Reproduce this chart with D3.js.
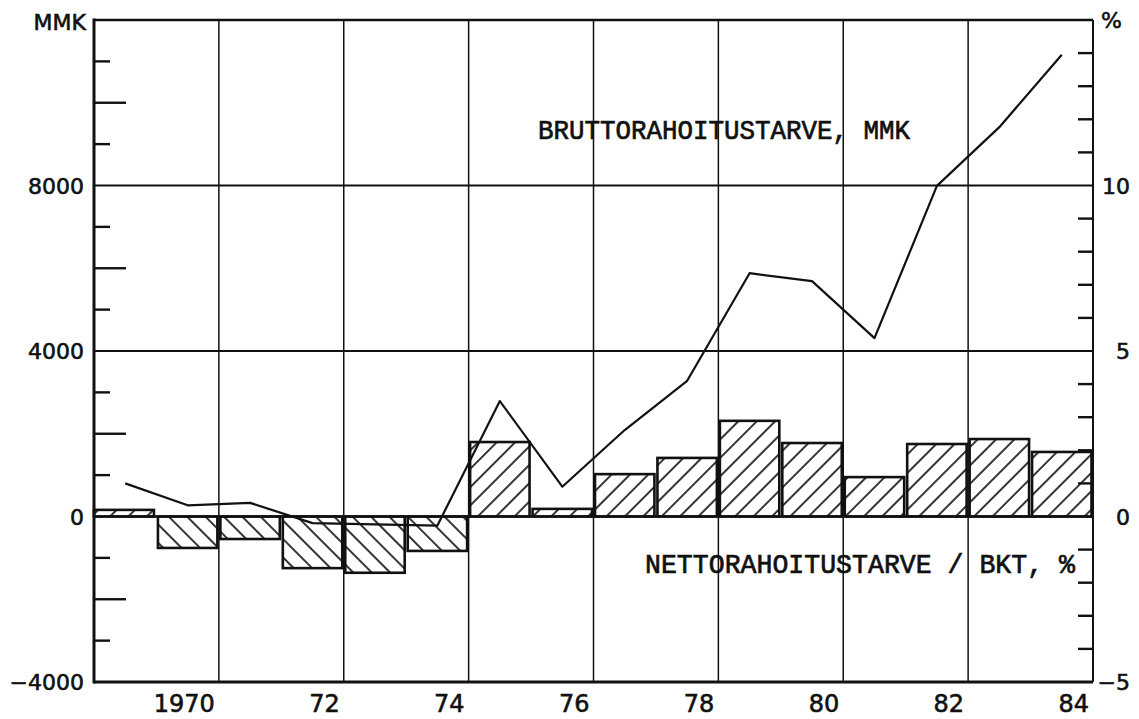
<!DOCTYPE html>
<head>
    <meta charset="UTF-8">
    <title>Bruttorahoitustarve</title>
</head>
<style>
    body {
        margin: 0;
        background: #fff;
    }

    .tick-label {
        font: 22px "DejaVu Sans", sans-serif;
        fill: #111;
        stroke: #111;
        stroke-width: 0.6;
    }

    .year-label {
        font: 24px "DejaVu Sans", sans-serif;
        fill: #111;
        stroke: #111;
        stroke-width: 0.6;
        text-anchor: end;
    }

    .series-label {
        font: 27px "Liberation Mono", monospace;
        fill: #111;
        stroke: #111;
        stroke-width: 0.7;
        white-space: pre;
    }
</style>
<body>

    <script src="https://cdn.jsdelivr.net/npm/d3@7/dist/d3.min.js"></script>
    <script>
        // vuodet 1969-1984
        var years = [1969, 1970, 1971, 1972, 1973, 1974, 1975, 1976,
                     1977, 1978, 1979, 1980, 1981, 1982, 1983, 1984];
        // bruttorahoitustarve, MMK (viiva, vasen akseli)
        var brutto = [800, 270, 330, -160, -190, -220, 2790, 720,
                      2090, 3280, 5880, 5690, 4310, 7990, 9410, 11160];
        // nettorahoitustarve / BKT, % (pylväät, oikea akseli)
        var netto = [0.2, -0.95, -0.68, -1.56, -1.7, -1.04, 2.25, 0.23,
                     1.28, 1.77, 2.89, 2.22, 1.19, 2.19, 2.34, 1.95];

        var leftTicks = [-4000, 0, 4000, 8000];
        var rightTicks = [-5, 0, 5, 10];
        var yearLabels = ["1970", "72", "74", "76", "78", "80", "82", "84"];
        var yearLabelAt = [1971, 1973, 1975, 1977, 1979, 1981, 1983, 1985];

        var width = 1139, height = 719;
        var pLeft = 94, pRight = 1093, pTop = 20, pBottom = 682;

        var x = d3.scaleLinear().domain([1969, 1985]).range([pLeft, pRight]);
        var yL = d3.scaleLinear().domain([-4000, 12000]).range([pBottom, pTop]);
        var yR = d3.scaleLinear().domain([-5, 15]).range([pBottom, pTop]);

        var svg = d3.select("body").append("svg")
            .attr("width", width)
            .attr("height", height);

        // vinoviivoitukset
        var defs = svg.append("defs");
        [["hatchUp", 45], ["hatchDown", -45]].forEach(function(p) {
            defs.append("pattern")
                .attr("id", p[0])
                .attr("patternUnits", "userSpaceOnUse")
                .attr("width", 13)
                .attr("height", 13)
                .attr("patternTransform", "rotate(" + p[1] + ")")
                .append("line")
                .attr("x1", 1).attr("x2", 1)
                .attr("y1", 0).attr("y2", 13)
                .attr("stroke", "#111")
                .attr("stroke-width", 1.7);
        });

        // pystysuorat ruudukkoviivat
        svg.append("g").selectAll("line")
            .data(d3.range(1971, 1985, 2))
            .enter().append("line")
            .attr("x1", function(d) { return x(d); })
            .attr("x2", function(d) { return x(d); })
            .attr("y1", pTop)
            .attr("y2", pBottom)
            .attr("stroke", "#111")
            .attr("stroke-width", 1.5);

        // vaakasuorat ruudukkoviivat
        svg.append("g").selectAll("line")
            .data([4000, 8000])
            .enter().append("line")
            .attr("x1", pLeft)
            .attr("x2", pRight)
            .attr("y1", function(d) { return yL(d); })
            .attr("y2", function(d) { return yL(d); })
            .attr("stroke", "#111")
            .attr("stroke-width", 2);

        // pylväät
        svg.append("g").selectAll("rect")
            .data(years)
            .enter().append("rect")
            .attr("x", function(d) { return x(d) + (d === 1969 ? 0 : 1.5); })
            .attr("width", function(d) { return x(d + 1) - x(d) - (d === 1969 ? 2.5 : 3); })
            .attr("y", function(d, i) { return yR(Math.max(0, netto[i])); })
            .attr("height", function(d, i) { return Math.abs(yR(netto[i]) - yR(0)); })
            .attr("fill", function(d, i) { return netto[i] >= 0 ? "url(#hatchUp)" : "url(#hatchDown)"; })
            .attr("stroke", "#111")
            .attr("stroke-width", 2.6);

        // nollaviiva
        svg.append("line")
            .attr("x1", pLeft).attr("x2", pRight)
            .attr("y1", yL(0)).attr("y2", yL(0))
            .attr("stroke", "#111")
            .attr("stroke-width", 2.6);

        // viiva
        var line = d3.line()
            .x(function(d, i) { return x(years[i] + 0.5); })
            .y(function(d) { return yL(d); });

        svg.append("path")
            .datum(brutto)
            .attr("d", line)
            .attr("fill", "none")
            .attr("stroke", "#111")
            .attr("stroke-width", 2.2)
            .attr("stroke-linejoin", "round");

        // vasen akseli: väliviivat
        svg.append("g").selectAll("line")
            .data(d3.range(-3000, 12000, 1000).filter(function(d) { return d % 4000 !== 0; }))
            .enter().append("line")
            .attr("x1", pLeft)
            .attr("x2", function(d) { return pLeft + (d % 2000 === 0 ? 32 : 16); })
            .attr("y1", function(d) { return yL(d); })
            .attr("y2", function(d) { return yL(d); })
            .attr("stroke", "#111")
            .attr("stroke-width", 2.4);

        // oikea akseli: väliviivat
        svg.append("g").selectAll("line")
            .data(d3.range(-4, 15).filter(function(d) { return d % 5 !== 0; }))
            .enter().append("line")
            .attr("x1", pRight - 15)
            .attr("x2", pRight)
            .attr("y1", function(d) { return yR(d); })
            .attr("y2", function(d) { return yR(d); })
            .attr("stroke", "#111")
            .attr("stroke-width", 2.4);

        // kehys
        svg.append("line").attr("x1", pLeft).attr("x2", pLeft).attr("y1", pTop - 1.5).attr("y2", pBottom + 1.5)
            .attr("stroke", "#111").attr("stroke-width", 3);
        svg.append("line").attr("x1", pLeft).attr("x2", pRight).attr("y1", pBottom).attr("y2", pBottom)
            .attr("stroke", "#111").attr("stroke-width", 3);
        svg.append("line").attr("x1", pLeft).attr("x2", pRight).attr("y1", pTop).attr("y2", pTop)
            .attr("stroke", "#111").attr("stroke-width", 2.6);
        svg.append("line").attr("x1", pRight).attr("x2", pRight).attr("y1", pTop).attr("y2", pBottom)
            .attr("stroke", "#111").attr("stroke-width", 2);

        // akseliotsikot
        svg.selectAll(".left-label")
            .data(leftTicks)
            .enter().append("text")
            .attr("class", "tick-label")
            .attr("x", 84)
            .attr("y", function(d) { return yL(d) + 8; })
            .attr("text-anchor", "end")
            .text(function(d) { return d < 0 ? "\u2212" + Math.abs(d) : d; });

        svg.selectAll(".right-label")
            .data(rightTicks)
            .enter().append("text")
            .attr("class", "tick-label")
            .attr("x", 1130)
            .attr("y", function(d) { return yR(d) + 8; })
            .attr("text-anchor", "end")
            .text(function(d) { return d < 0 ? "\u2212" + Math.abs(d) : d; });

        svg.append("text")
            .attr("class", "tick-label")
            .attr("x", 86)
            .attr("y", 30)
            .attr("text-anchor", "end")
            .text("MMK");

        svg.append("text")
            .attr("class", "tick-label")
            .attr("x", 1101)
            .attr("y", 28)
            .text("%");

        svg.selectAll(".year-label")
            .data(yearLabels)
            .enter().append("text")
            .attr("class", "year-label")
            .attr("x", function(d, i) { return x(yearLabelAt[i]) - 4; })
            .attr("y", 712)
            .text(function(d) { return d; });

        // sarjojen nimet
        svg.append("text")
            .attr("class", "series-label")
            .attr("x", 538)
            .attr("y", 139)
            .attr("textLength", 372)
            .attr("lengthAdjust", "spacingAndGlyphs")
            .text("BRUTTORAHOITUSTARVE, MMK");

        svg.append("text")
            .attr("class", "series-label")
            .attr("x", 645)
            .attr("y", 573)
            .attr("textLength", 430)
            .attr("lengthAdjust", "spacingAndGlyphs")
            .text("NETTORAHOITUSTARVE / BKT, %");

    </script>
</body>
</html>
